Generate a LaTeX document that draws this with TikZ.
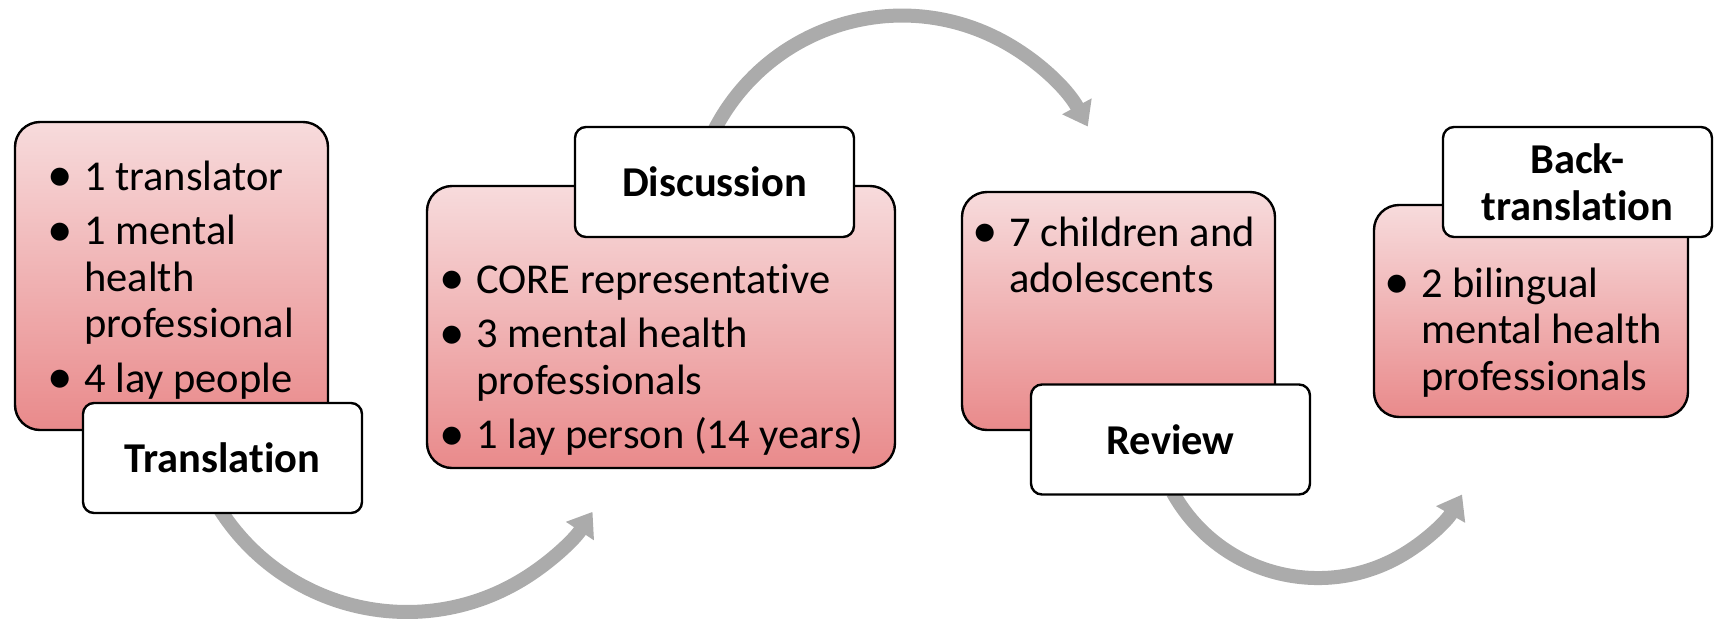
\documentclass[tikz,border=0pt]{standalone}
\usepackage{fontspec}
\usepackage{graphicx}
\setmainfont{Carlito}[Ligatures=NoCommon]
\usetikzlibrary{arrows.meta}
\definecolor{pinktop}{RGB}{247,219,220}
\definecolor{pinkbot}{RGB}{233,138,139}
\definecolor{arrowgray}{RGB}{171,171,171}
\newcommand\bul{\makebox[33pt][l]{\hspace{-4pt}\raisebox{-1.5pt}{\scalebox{1.2}{\textbullet}}}}
\begin{document}
\begin{tikzpicture}[x=1pt,y=1pt,
  pinkbox/.style={draw=black, line width=2.4pt, rounded corners=25pt, top color=pinktop, bottom color=pinkbot, inner sep=0pt},
  labelbox/.style={draw=black, line width=2.4pt, rounded corners=11pt, fill=white, inner sep=0pt, minimum width=279pt, minimum height=110pt, font=\fontsize{42.5}{47}\selectfont\bfseries, align=center},
  listtext/.style={inner sep=0pt, anchor=base west, font=\fontsize{42.5}{46.5}\selectfont},
  flowarrow/.style={draw=arrowgray, line width=14pt, -{Triangle[width=32pt,length=23pt]}}
]
\useasboundingbox (0,0) rectangle (1714,-627);
% arrows (behind)
\coordinate (a1s) at (216.7,-504.3);
\coordinate (a2s) at (714,-130.8);
\coordinate (a3s) at (1172.8,-492.5);
\draw[flowarrow] (a1s) arc[start angle=211, end angle=326.7, radius=222];
\draw[flowarrow] (a2s) arc[start angle=153, end angle=28.3, radius=211];
\draw[flowarrow] (a3s) arc[start angle=209, end angle=330.2, radius=166];
% pink boxes
\node[pinkbox, minimum width=313pt, minimum height=308pt] (p1) at (171.5,-276) {};
\node[pinkbox, minimum width=468pt, minimum height=282pt] (p2) at (661,-327) {};
\node[pinkbox, minimum width=313pt, minimum height=238pt] (p3) at (1118.5,-311) {};
\node[pinkbox, minimum width=314pt, minimum height=212pt] (p4) at (1531,-311) {};
% list texts
\node[listtext] (t1) at (51,-190) {\begin{tabular}[t]{@{}l@{}l@{}}
\bul & 1 translator\\[8pt]
\bul & 1 mental\\
 & health\\
 & professional\\[8pt]
\bul & 4 lay people
\end{tabular}};
\node[listtext] (t2) at (443,-293) {\begin{tabular}[t]{@{}l@{}l@{}}
\bul & CORE representative\\[8pt]
\bul & 3 mental health\\
 & professionals\\[8pt]
\bul & 1 lay person (14 years)
\end{tabular}};
\node[listtext] (t3) at (976,-246) {\begin{tabular}[t]{@{}l@{}l@{}}
\bul & 7 children and\\
 & adolescents
\end{tabular}};
\node[listtext] (t4) at (1388,-297) {\begin{tabular}[t]{@{}l@{}l@{}}
\bul & 2 bilingual\\
 & mental health\\
 & professionals
\end{tabular}};
% label boxes
\node[labelbox] (l1) at (222.5,-458) {Translation};
\node[labelbox] (l2) at (714.5,-182) {Discussion};
\node[labelbox] (l3) at (1170.5,-439.5) {Review};
\node[labelbox, minimum width=269pt] (l4) at (1577.5,-182) {Back-\\translation};
\end{tikzpicture}
\end{document}
